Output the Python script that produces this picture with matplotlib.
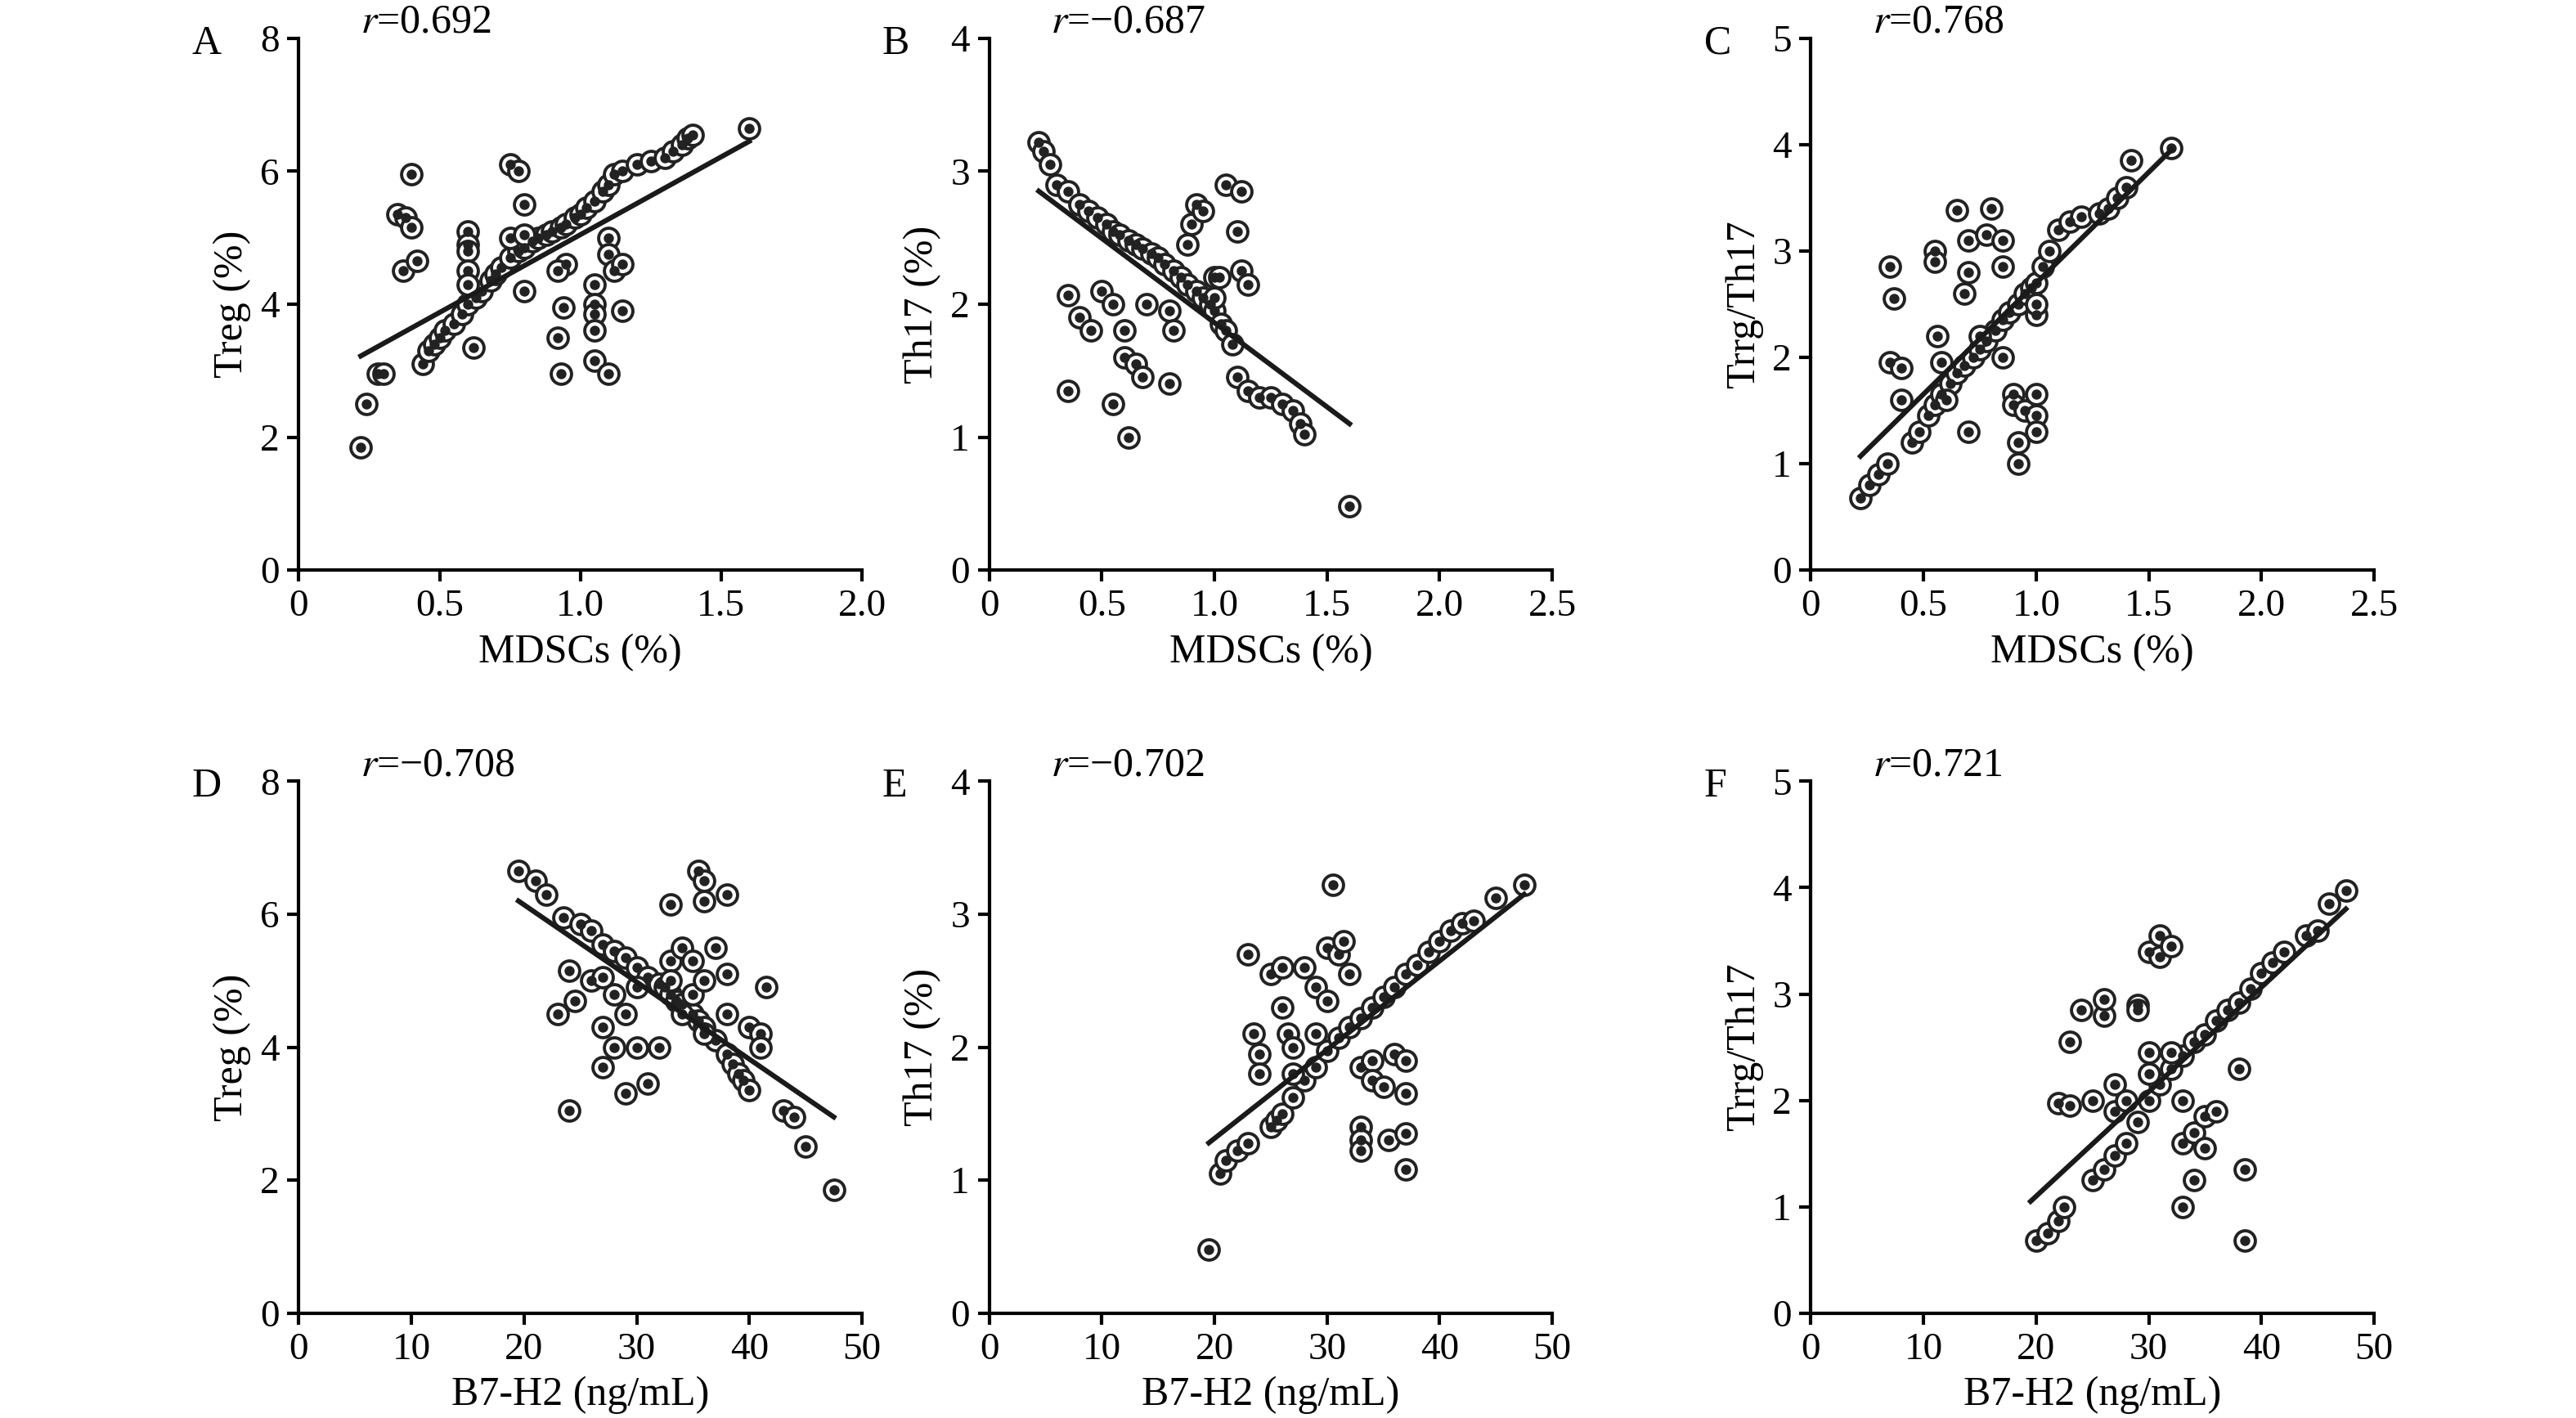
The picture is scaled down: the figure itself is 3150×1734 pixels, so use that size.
import matplotlib
matplotlib.use("Agg")
import matplotlib.pyplot as plt
import numpy as np

plt.rcParams["font.family"] = ["Liberation Serif", "DejaVu Serif"]
plt.rcParams["mathtext.fontset"] = "stix"

# ---- panel A: MDSCs vs Treg ----
a_x = [0.22, 0.24, 0.28, 0.30, 0.44, 0.46, 0.48, 0.50, 0.52, 0.55, 0.58, 0.60, 0.63, 0.65, 0.68,
       0.70, 0.72, 0.75, 0.78, 0.80, 0.83, 0.85, 0.88, 0.90, 0.93, 0.95, 0.98, 1.00, 1.02, 1.05,
       1.08, 1.10, 1.12, 1.15, 1.20, 1.25, 1.30, 1.33, 1.36, 1.38, 1.40, 1.60,
       0.35, 0.38, 0.40, 0.40, 0.37, 0.42, 0.60, 0.60, 0.60, 0.60, 0.60, 0.62, 0.75, 0.78, 0.80,
       0.75, 0.80, 0.80, 0.95, 0.92, 0.92, 0.94, 0.93, 1.05, 1.05, 1.05, 1.05, 1.05, 1.10, 1.10,
       1.10, 1.12, 1.15, 1.15]
a_y = [1.85, 2.50, 2.95, 2.95, 3.10, 3.30, 3.40, 3.50, 3.60, 3.70, 3.85, 4.00, 4.10, 4.20, 4.35,
       4.45, 4.55, 4.70, 4.80, 4.85, 4.95, 5.00, 5.05, 5.10, 5.15, 5.20, 5.30, 5.35, 5.45, 5.55,
       5.70, 5.80, 5.95, 6.00, 6.10, 6.15, 6.20, 6.30, 6.40, 6.50, 6.55, 6.65,
       5.35, 5.30, 5.15, 5.95, 4.50, 4.65, 5.10, 4.90, 4.80, 4.50, 4.30, 3.35, 6.10, 6.00, 5.50,
       5.00, 5.05, 4.20, 4.60, 4.50, 3.50, 3.95, 2.95, 4.30, 4.00, 3.85, 3.60, 3.15, 2.95, 5.00,
       4.75, 4.50, 4.60, 3.90]
a_line = ([0.22, 1.60], [3.22, 6.45])

# ---- panel B: MDSCs vs Th17 ----
b_x = [0.22, 0.24, 0.27, 0.30, 0.35, 0.40, 0.44, 0.48, 0.52, 0.55, 0.58, 0.62, 0.65, 0.68, 0.72,
       0.75, 0.78, 0.82, 0.85, 0.88, 0.92, 0.95, 0.98, 1.00, 1.03, 1.05, 1.08, 1.10, 1.15, 1.20,
       1.25, 1.30, 1.35, 1.38, 1.40, 1.60,
       0.35, 0.35, 0.40, 0.45, 0.50, 0.55, 0.55, 0.60, 0.60, 0.62, 0.65, 0.68, 0.70, 0.80, 0.80,
       0.82, 0.88, 0.90, 0.92, 0.95, 1.00, 1.02, 1.05, 1.12, 1.10, 1.12, 1.15, 1.00]
b_y = [3.22, 3.15, 3.05, 2.90, 2.85, 2.75, 2.70, 2.65, 2.60, 2.55, 2.52, 2.48, 2.45, 2.42, 2.38,
       2.35, 2.30, 2.25, 2.20, 2.15, 2.10, 2.05, 2.00, 1.95, 1.85, 1.80, 1.70, 1.45, 1.35, 1.30,
       1.30, 1.25, 1.20, 1.10, 1.02, 0.48,
       2.07, 1.35, 1.90, 1.80, 2.10, 2.00, 1.25, 1.60, 1.80, 1.00, 1.55, 1.45, 2.00, 1.95, 1.40,
       1.80, 2.45, 2.60, 2.75, 2.70, 2.20, 2.20, 2.90, 2.85, 2.55, 2.25, 2.15, 2.05]
b_line = ([0.22, 1.60], [2.85, 1.10])

# ---- panel C: MDSCs vs Treg/Th17 ----
c_x = [0.22, 0.26, 0.30, 0.34, 0.45, 0.48, 0.52, 0.55, 0.58, 0.62, 0.65, 0.68, 0.72, 0.75, 0.78,
       0.82, 0.85, 0.88, 0.92, 0.95, 0.98, 1.00, 1.03, 1.06, 1.10, 1.15, 1.20, 1.28, 1.32, 1.36,
       1.40, 1.42, 1.60,
       0.35, 0.37, 0.35, 0.40, 0.40, 0.55, 0.55, 0.56, 0.58, 0.60, 0.65, 0.70, 0.70, 0.68, 0.70,
       0.75, 0.78, 0.80, 0.85, 0.85, 0.85, 0.90, 0.90, 0.92, 0.92, 0.95, 1.00, 1.00, 1.00, 1.00, 1.00]
c_y = [0.68, 0.80, 0.90, 1.00, 1.20, 1.30, 1.45, 1.55, 1.65, 1.75, 1.85, 1.92, 2.00, 2.08, 2.15,
       2.25, 2.35, 2.42, 2.50, 2.60, 2.65, 2.70, 2.85, 3.00, 3.20, 3.28, 3.32, 3.35, 3.40, 3.50,
       3.60, 3.85, 3.97,
       2.85, 2.55, 1.95, 1.90, 1.60, 3.00, 2.90, 2.20, 1.95, 1.60, 3.38, 3.10, 2.80, 2.60, 1.30,
       2.20, 3.15, 3.40, 3.10, 2.85, 2.00, 1.65, 1.55, 1.20, 1.00, 1.50, 1.65, 1.45, 1.30, 2.40, 2.50]
c_line = ([0.22, 1.60], [1.07, 3.95])

# ---- panel D: B7-H2 vs Treg ----
d_x = [19.5, 21.0, 22.0, 23.5, 25.0, 26.0, 27.0, 28.0, 29.0, 30.0, 31.0, 32.0, 32.5, 33.0, 33.5,
       34.0, 35.0, 35.5, 36.0, 37.0, 38.0, 38.5, 39.0, 39.5, 40.0, 43.0, 44.0, 45.0, 47.5,
       23.0, 24.0, 24.5, 24.0, 26.0, 27.0, 27.0, 27.0, 28.0, 28.0, 29.0, 29.0, 30.0, 30.0, 31.0,
       32.0, 33.0, 33.0, 33.0, 34.0, 34.0, 35.0, 35.0, 35.5, 36.0, 36.0, 36.0, 37.0, 38.0, 38.0,
       38.0, 40.0, 41.0, 41.0, 41.5, 36.0]
d_y = [6.65, 6.50, 6.30, 5.95, 5.85, 5.75, 5.55, 5.45, 5.35, 5.20, 5.05, 4.95, 4.90, 4.80, 4.70,
       4.65, 4.50, 4.40, 4.30, 4.10, 3.90, 3.75, 3.60, 3.50, 3.35, 3.05, 2.95, 2.50, 1.85,
       4.50, 5.15, 4.70, 3.05, 5.00, 5.05, 4.30, 3.70, 4.80, 4.00, 4.50, 3.30, 4.90, 4.00, 3.45,
       4.00, 6.15, 5.30, 5.00, 5.50, 4.50, 5.30, 4.80, 6.65, 6.50, 6.20, 5.00, 5.50, 6.30, 5.10,
       4.50, 4.30, 4.20, 4.00, 4.90, 4.20]
d_line = ([19.5, 47.5], [6.20, 2.95])

# ---- panel E: B7-H2 vs Th17 ----
e_x = [19.5, 20.5, 21.0, 22.0, 23.0, 25.0, 25.5, 26.0, 27.0, 28.0, 29.0, 30.0, 31.0, 32.0, 33.0,
       34.0, 35.0, 36.0, 37.0, 38.0, 39.0, 40.0, 41.0, 42.0, 43.0, 45.0, 47.5,
       23.0, 23.5, 24.0, 24.0, 25.0, 26.0, 26.0, 26.5, 27.0, 27.0, 28.0, 29.0, 29.0, 30.0, 30.5,
       30.0, 31.0, 31.5, 32.0, 33.0, 33.0, 33.0, 33.0, 34.0, 34.0, 35.0, 35.5, 36.0, 37.0, 37.0,
       37.0, 37.0]
e_y = [0.48, 1.05, 1.15, 1.22, 1.28, 1.40, 1.45, 1.50, 1.62, 1.75, 1.85, 1.97, 2.07, 2.15, 2.22,
       2.30, 2.38, 2.45, 2.55, 2.62, 2.72, 2.80, 2.88, 2.93, 2.95, 3.12, 3.22,
       2.70, 2.10, 1.95, 1.80, 2.55, 2.60, 2.30, 2.10, 2.00, 1.80, 2.60, 2.45, 2.10, 2.75, 3.22,
       2.35, 2.70, 2.80, 2.55, 1.40, 1.30, 1.22, 1.85, 1.90, 1.75, 1.70, 1.30, 1.95, 1.90, 1.65,
       1.35, 1.08]
e_line = ([19.5, 47.5], [1.28, 3.15])

# ---- panel F: B7-H2 vs Treg/Th17 ----
f_x = [20.0, 21.0, 22.0, 22.5, 25.0, 26.0, 27.0, 28.0, 29.0, 30.0, 31.0, 32.0, 33.0, 34.0, 35.0,
       36.0, 37.0, 38.0, 39.0, 40.0, 41.0, 42.0, 44.0, 45.0, 46.0, 47.5,
       22.0, 23.0, 23.0, 24.0, 25.0, 26.0, 26.0, 27.0, 27.0, 28.0, 29.0, 29.0, 30.0, 30.0, 30.0,
       31.0, 31.0, 32.0, 32.0, 33.0, 33.0, 33.0, 34.0, 34.0, 35.0, 35.0, 36.0, 38.0, 38.5, 38.5]
f_y = [0.68, 0.75, 0.87, 1.00, 1.25, 1.35, 1.48, 1.60, 1.80, 2.00, 2.15, 2.30, 2.42, 2.55, 2.62,
       2.75, 2.85, 2.92, 3.05, 3.20, 3.30, 3.40, 3.55, 3.60, 3.85, 3.97,
       1.97, 1.95, 2.55, 2.85, 2.00, 2.80, 2.95, 2.15, 1.90, 2.00, 2.90, 2.85, 3.40, 2.45, 2.25,
       3.55, 3.35, 3.45, 2.45, 2.00, 1.60, 1.00, 1.25, 1.70, 1.85, 1.55, 1.90, 2.30, 1.35, 0.68]
f_line = ([19.5, 47.5], [1.05, 3.80])

panels = [
    ("A", "r=0.692", a_x, a_y, a_line, "MDSCs (%)", "Treg (%)", [0, 0.5, 1.0, 1.5, 2.0], ["0", "0.5", "1.0", "1.5", "2.0"], [0, 2, 4, 6, 8]),
    ("B", "r=\u22120.687", b_x, b_y, b_line, "MDSCs (%)", "Th17 (%)", [0, 0.5, 1.0, 1.5, 2.0, 2.5], ["0", "0.5", "1.0", "1.5", "2.0", "2.5"], [0, 1, 2, 3, 4]),
    ("C", "r=0.768", c_x, c_y, c_line, "MDSCs (%)", "Trrg/Th17", [0, 0.5, 1.0, 1.5, 2.0, 2.5], ["0", "0.5", "1.0", "1.5", "2.0", "2.5"], [0, 1, 2, 3, 4, 5]),
    ("D", "r=\u22120.708", d_x, d_y, d_line, "B7-H2 (ng/mL)", "Treg (%)", [0, 10, 20, 30, 40, 50], ["0", "10", "20", "30", "40", "50"], [0, 2, 4, 6, 8]),
    ("E", "r=\u22120.702", e_x, e_y, e_line, "B7-H2 (ng/mL)", "Th17 (%)", [0, 10, 20, 30, 40, 50], ["0", "10", "20", "30", "40", "50"], [0, 1, 2, 3, 4]),
    ("F", "r=0.721", f_x, f_y, f_line, "B7-H2 (ng/mL)", "Trrg/Th17", [0, 10, 20, 30, 40, 50], ["0", "10", "20", "30", "40", "50"], [0, 1, 2, 3, 4, 5]),
]

fig = plt.figure(figsize=(15.75, 8.67), dpi=200)
lefts = [0.116, 0.384, 0.703]
bottoms = [0.598, 0.074]
w, h = 0.2186, 0.375

for i, (lab, rtxt, x, y, line, xl, yl, xt, xtl, yt) in enumerate(panels):
    ax = fig.add_axes([lefts[i % 3], bottoms[i // 3], w, h])
    ax.scatter(x, y, s=80, facecolors="white", edgecolors="#222222", linewidths=1.4, zorder=2)
    ax.scatter(x, y, s=12, color="#222222", zorder=3)
    ax.plot(line[0], line[1], color="#1a1a1a", lw=2.2, zorder=4)
    ax.set_xlim(xt[0], xt[-1])
    ax.set_ylim(yt[0], yt[-1])
    ax.set_xticks(xt)
    ax.set_xticklabels(xtl)
    ax.set_yticks(yt)
    ax.spines["top"].set_visible(False)
    ax.spines["right"].set_visible(False)
    for s in ("left", "bottom"):
        ax.spines[s].set_linewidth(1.5)
    ax.tick_params(labelsize=17, width=1.5, length=5)
    ax.set_xlabel(xl, fontsize=18)
    ax.set_ylabel(yl, fontsize=18)
    r_str = rtxt.replace("r=", "")
    ax.text(0.11, 1.03, r"$\mathit{r}$=" + r_str, transform=ax.transAxes, fontsize=18, va="center")
    ax.text(-0.19, 0.99, lab, transform=ax.transAxes, fontsize=18, va="center")

fig.savefig("out.png", dpi=200, facecolor="white")
